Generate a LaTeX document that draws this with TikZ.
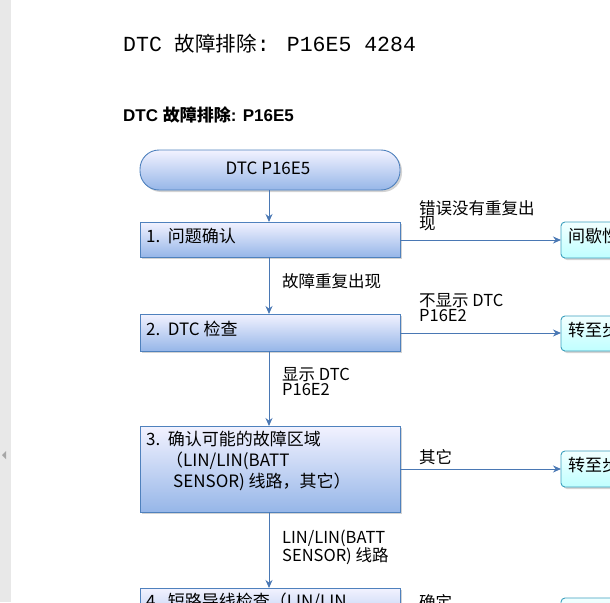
\documentclass[tikz,border=0pt]{standalone}
\usepackage{fontspec}
\setmainfont{Liberation Serif}
\newfontfamily\cjk{Noto Sans CJK SC}
\newfontfamily\monof{Liberation Mono}
\newfontfamily\bsans{Liberation Sans}
\usetikzlibrary{shadows,arrows.meta}
\definecolor{bd}{HTML}{4F81BD}
\definecolor{ln}{HTML}{4A78B4}
\tikzset{
 bx/.style={draw=bd,line width=0.9pt,top color=blue!5!white,bottom color={rgb,255:red,150;green,182;blue,232},drop shadow={shadow xshift=2pt,shadow yshift=-2pt,opacity=0.35},inner sep=0pt},
 cx/.style={draw={rgb,255:red,60;green,160;blue,190},line width=0.9pt,rounded corners=4pt,top color=cyan!5!white,bottom color=cyan!25!white,drop shadow={shadow xshift=2pt,shadow yshift=-2pt,opacity=0.35}},
 ar/.style={draw=ln,line width=1pt,-{Stealth[length=8pt,width=7pt]}},
 lb/.style={font=\cjk\fontsize{16.5}{15}\selectfont,anchor=north west,align=left,inner sep=0pt},
 tx/.style={font=\cjk\fontsize{17}{21}\selectfont,anchor=north west,align=left,inner sep=0pt}
}
\begin{document}
\begin{tikzpicture}[x=1pt,y=-1pt]
\useasboundingbox (0,0) rectangle (610,602);
\clip (0,0) rectangle (610,602);
\fill[gray!18] (0,0) rectangle (11,602);
\fill[gray!70] (2,455) -- (6,451) -- (6,459) -- cycle;
\node[anchor=base west,inner sep=0pt,font=\monof\fontsize{21.5}{23}\selectfont] (title) at (123,52) {DTC {\cjk\fontsize{20.5}{23}\selectfont 故障排除}: P16E5 4284};
\node[anchor=base west,inner sep=0pt,font=\bsans\bfseries\fontsize{17}{19}\selectfont] (sub) at (123,121) {DTC {\cjk\bfseries 故障排除}: P16E5};
% start
\path[bx,rounded corners=19pt] (140,150) rectangle (400,190);
\node[font=\cjk\fontsize{17}{19}\selectfont] (s) at (268,168) {DTC P16E5};
\coordinate (sb) at (269,190);
% boxes
\path[bx] (140,222) rectangle (400,257); \coordinate (b1t) at (269,222); \coordinate (b1b) at (269,257); \coordinate (b1r) at (400,240);
\node[tx] (t1) at (146,228) {1.\ \ 问题确认};
\path[bx] (140,314) rectangle (400,351); \coordinate (b2t) at (269,314); \coordinate (b2b) at (269,351); \coordinate (b2r) at (400,333);
\node[tx] (t2) at (146,321) {2.\ \ DTC 检查};
\path[bx] (140,426) rectangle (400,512); \coordinate (b3t) at (269,426); \coordinate (b3b) at (269,512); \coordinate (b3r) at (400,469);
\node[tx] (t3) at (146,431) {3.\ \ 确认可能的故障区域\\\hspace{20pt}（LIN/LIN(BATT\\\hspace{27pt}SENSOR) 线路，其它）};
\path[bx] (140,588) rectangle (400,640); \coordinate (b4t) at (269,588);
\node[tx] (t4) at (146,593) {4.\ \ 短路导线检查（LIN/LIN};
% right boxes
\path[cx] (561,222) rectangle (640,258); \coordinate (r1) at (561,240);
\node[tx] (rt1) at (568,228) {间歇性故障};
\path[cx] (561,316) rectangle (640,351); \coordinate (r2) at (561,333);
\node[tx] (rt2) at (568,322) {转至步骤};
\path[cx] (561,451) rectangle (640,487); \coordinate (r3) at (561,469);
\node[tx] (rt3) at (568,457) {转至步骤};
\path[cx] (561,598) rectangle (640,640);
% arrows
\draw[ar] (sb) -- (b1t);
\draw[ar] (b1b) -- (b2t);
\draw[ar] (b2b) -- (b3t);
\draw[ar] (b3b) -- (b4t);
\draw[ar] (b1r) -- (r1);
\draw[ar] (b2r) -- (r2);
\draw[ar] (b3r) -- (r3);
% labels
\node[lb] (l1) at (419,200) {错误没有重复出\\现};
\node[lb] (l2) at (282,273) {故障重复出现};
\node[lb] (l3) at (419,293) {不显示 DTC\\P16E2};
\node[lb] (l4) at (282,367) {显示 DTC\\P16E2};
\node[lb] (l5) at (419,449) {其它};
\node[lb] (l6) at (282,530) {LIN/LIN(BATT\\SENSOR) 线路};
\node[lb] (l7) at (419,594) {确定};
\end{tikzpicture}
\end{document}
